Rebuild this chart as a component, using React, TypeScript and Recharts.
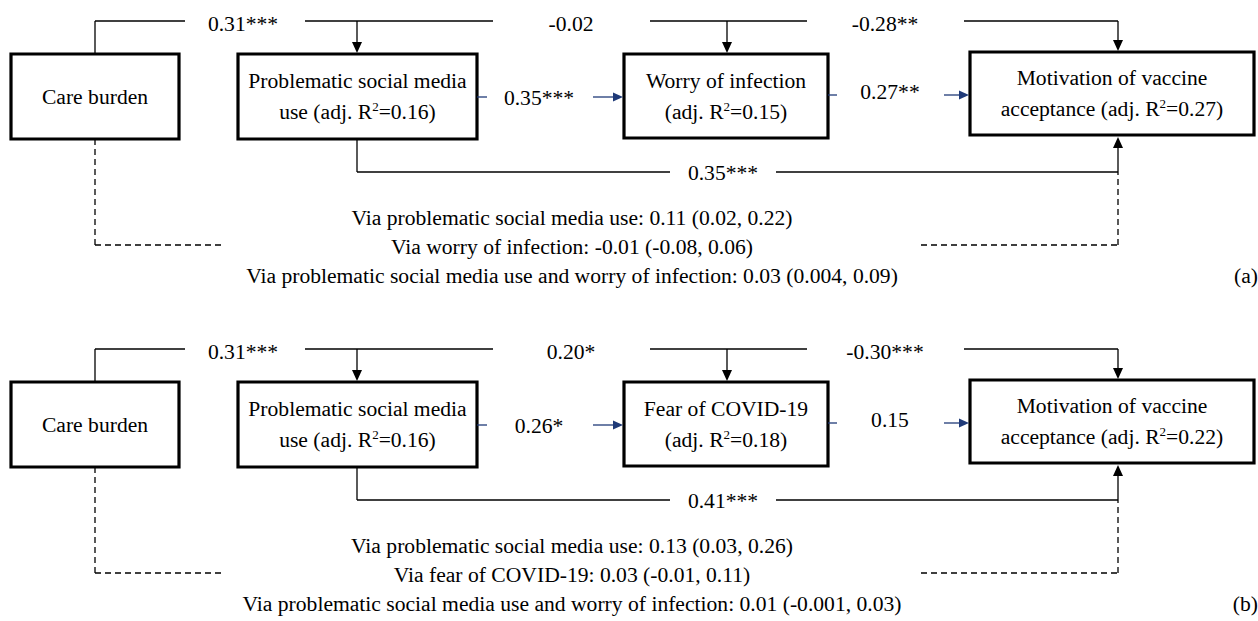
import { ReferenceArea, ReferenceLine, Scatter, ScatterChart, XAxis, YAxis } from 'recharts'

const W = 1258
const H = 621
const FONT = '"Liberation Serif", "Times New Roman", serif'
const NAVY = '#1f3a78'

// ---- content of the two panels ----
const NODES_A = [
  'Care burden',
  'Problematic social media|use (adj. R^2=0.16)',
  'Worry of infection|(adj. R^2=0.15)',
  'Motivation of vaccine|acceptance (adj. R^2=0.27)',
]
const NODES_B = [
  'Care burden',
  'Problematic social media|use (adj. R^2=0.16)',
  'Fear of COVID-19|(adj. R^2=0.18)',
  'Motivation of vaccine|acceptance (adj. R^2=0.22)',
]
const TOP_COEF_A = ['0.31***', '-0.02', '-0.28**']
const TOP_COEF_B = ['0.31***', '0.20*', '-0.30***']
const CHAIN_COEF_A = ['0.35***', '0.27**']
const CHAIN_COEF_B = ['0.26*', '0.15']
const DIRECT_COEF = ['0.35***', '0.41***']
const INDIRECT_A = [
  'Via problematic social media use: 0.11 (0.02, 0.22)',
  'Via worry of infection: -0.01 (-0.08, 0.06)',
  'Via problematic social media use and worry of infection: 0.03 (0.004, 0.09)',
]
const INDIRECT_B = [
  'Via problematic social media use: 0.13 (0.03, 0.26)',
  'Via fear of COVID-19: 0.03 (-0.01, 0.11)',
  'Via problematic social media use and worry of infection: 0.01 (-0.001, 0.03)',
]
const PANEL_TAGS = ['(a)', '(b)']

const NODES = [NODES_A, NODES_B]
const TOP_COEF = [TOP_COEF_A, TOP_COEF_B]
const CHAIN_COEF = [CHAIN_COEF_A, CHAIN_COEF_B]
const INDIRECT = [INDIRECT_A, INDIRECT_B]

// ---- layout (panel a, panel b is shifted down) ----
const PANEL_DY = [0, 328]
const BOX_X = [[11, 179], [238, 477], [624, 828], [970, 1254]]
const BOX_Y = [[54, 139], [54, 139], [54, 138], [52, 135]]
const TOP_Y = 21
const TOP_SRC_X = 95
const TOP_DROP_X = [357, 727, 1118]
const TOP_LABEL_X = [243, 571, 885]
const TOP_GAPS = [[185, 305], [493, 650], [807, 964]]
const CHAIN_Y = [97, 95]
const CHAIN_STUB = [[477, 487], [828, 837]]
const CHAIN_ARROW = [[593, 623], [944, 969]]
const CHAIN_LABEL_X = [539, 890]
const CHAIN_LABEL_BASE = [104.5, 98.5]
const DIRECT_X = 357
const DIRECT_Y = 172
const DIRECT_GAP = [670, 776]
const DASH_Y = 245
const DASH_LEFT_END = 225
const DASH_RIGHT_START = 921
const INDIRECT_X = 572
const INDIRECT_BASE = [225, 254, 283]

type TextItem = { x: number; y: number; text: string; anchor: 'start' | 'middle' | 'end' }
type ArrowItem = { x: number; y: number; dir: 'down' | 'up' | 'right'; color: string }
type Seg = { a: [number, number]; b: [number, number]; dashed?: boolean; color?: string }

const texts: TextItem[] = []
const arrows: ArrowItem[] = []
const segs: Seg[] = []

PANEL_DY.forEach((dy, p) => {
  // node labels
  NODES[p].forEach((label, i) => {
    const cx = (BOX_X[i][0] + BOX_X[i][1]) / 2
    const cy = (BOX_Y[i][0] + BOX_Y[i][1]) / 2 + dy
    const lines = label.split('|')
    if (lines.length === 1) {
      texts.push({ x: cx, y: cy + 7.5, text: lines[0], anchor: 'middle' })
    } else {
      texts.push({ x: cx, y: cy - 8.5, text: lines[0], anchor: 'middle' })
      texts.push({ x: cx, y: cy + 22.5, text: lines[1], anchor: 'middle' })
    }
  })

  // top paths from care burden
  const ty = TOP_Y + dy
  segs.push({ a: [TOP_SRC_X, BOX_Y[0][0] + dy], b: [TOP_SRC_X, ty] })
  segs.push({ a: [TOP_SRC_X, ty], b: [TOP_GAPS[0][0], ty] })
  TOP_GAPS.forEach((g, i) => {
    const next = i < TOP_GAPS.length - 1 ? TOP_GAPS[i + 1][0] : TOP_DROP_X[2]
    segs.push({ a: [g[1], ty], b: [next, ty] })
    texts.push({ x: TOP_LABEL_X[i], y: ty + 9.5, text: TOP_COEF[p][i], anchor: 'middle' })
  })
  TOP_DROP_X.forEach((x, i) => {
    const tip = BOX_Y[i + 1][0] - 1 + dy
    segs.push({ a: [x, ty], b: [x, tip - 6] })
    arrows.push({ x, y: tip, dir: 'down', color: '#000' })
  })

  // chain (blue) paths
  CHAIN_Y.forEach((cyBase, i) => {
    const cy = cyBase + dy
    segs.push({ a: [CHAIN_STUB[i][0], cy], b: [CHAIN_STUB[i][1], cy], color: NAVY })
    segs.push({ a: [CHAIN_ARROW[i][0], cy], b: [CHAIN_ARROW[i][1] - 6, cy], color: NAVY })
    arrows.push({ x: CHAIN_ARROW[i][1], y: cy, dir: 'right', color: NAVY })
    texts.push({ x: CHAIN_LABEL_X[i], y: CHAIN_LABEL_BASE[i] + dy, text: CHAIN_COEF[p][i], anchor: 'middle' })
  })

  // direct path from problematic use to motivation
  const dyY = DIRECT_Y + dy
  const endX = TOP_DROP_X[2]
  segs.push({ a: [DIRECT_X, BOX_Y[1][1] + dy], b: [DIRECT_X, dyY] })
  segs.push({ a: [DIRECT_X, dyY], b: [DIRECT_GAP[0], dyY] })
  segs.push({ a: [DIRECT_GAP[1], dyY], b: [endX, dyY] })
  segs.push({ a: [endX, dyY], b: [endX, BOX_Y[3][1] + 2 + dy + 6] })
  arrows.push({ x: endX, y: BOX_Y[3][1] + 2 + dy, dir: 'up', color: '#000' })
  texts.push({ x: (DIRECT_GAP[0] + DIRECT_GAP[1]) / 2, y: dyY + 7.5, text: DIRECT_COEF[p], anchor: 'middle' })

  // dashed indirect connection
  const dashY = DASH_Y + dy
  segs.push({ a: [TOP_SRC_X, BOX_Y[0][1] + dy], b: [TOP_SRC_X, dashY], dashed: true })
  segs.push({ a: [TOP_SRC_X, dashY], b: [DASH_LEFT_END, dashY], dashed: true })
  segs.push({ a: [DASH_RIGHT_START, dashY], b: [endX, dashY], dashed: true })
  segs.push({ a: [endX, dashY], b: [endX, dyY], dashed: true })

  INDIRECT[p].forEach((t, i) => {
    texts.push({ x: INDIRECT_X, y: INDIRECT_BASE[i] + dy, text: t, anchor: 'middle' })
  })
  texts.push({ x: W, y: INDIRECT_BASE[2] + dy, text: PANEL_TAGS[p], anchor: 'end' })
})

const boxes = PANEL_DY.flatMap((dy) =>
  BOX_X.map((bx, i) => ({ x1: bx[0], x2: bx[1], y1: BOX_Y[i][0] + dy, y2: BOX_Y[i][1] + dy })),
)

function TextMark(props: any) {
  const { cx, cy, payload } = props
  if (cx == null || cy == null) return null
  const t: string = payload.text
  const parts = t.split('^2')
  return (
    <text x={cx} y={cy} textAnchor={payload.anchor} fontFamily={FONT} fontSize={21.6} fill="#000">
      {parts.length === 1 ? (
        t
      ) : (
        <>
          <tspan>{parts[0]}</tspan>
          <tspan dy={-8} fontSize={13}>2</tspan>
          <tspan dy={8}>{parts[1]}</tspan>
        </>
      )}
    </text>
  )
}

function ArrowMark(props: any) {
  const { cx, cy, payload } = props
  if (cx == null || cy == null) return null
  let pts = ''
  if (payload.dir === 'down') pts = `${cx},${cy} ${cx - 5},${cy - 11} ${cx + 5},${cy - 11}`
  else if (payload.dir === 'up') pts = `${cx},${cy} ${cx - 5},${cy + 11} ${cx + 5},${cy + 11}`
  else pts = `${cx},${cy} ${cx - 10},${cy - 4.5} ${cx - 10},${cy + 4.5}`
  return <polygon points={pts} fill={payload.color} />
}

export default function App() {
  return (
    <div style={{ position: 'absolute', left: 0, top: 0, width: W, height: H, background: '#fff' }}>
      <ScatterChart width={W} height={H} margin={{ top: 0, right: 0, bottom: 0, left: 0 }}>
        <XAxis type="number" dataKey="x" domain={[0, W]} hide allowDataOverflow />
        <YAxis type="number" dataKey="y" domain={[0, H]} reversed hide allowDataOverflow />
        {segs.map((s, i) => (
          <ReferenceLine
            key={`s${i}`}
            segment={[
              { x: s.a[0], y: s.a[1] },
              { x: s.b[0], y: s.b[1] },
            ]}
            stroke={s.color ?? '#000'}
            strokeWidth={1.3}
            strokeDasharray={s.dashed ? '6 4' : undefined}
            ifOverflow="visible"
          />
        ))}
        {boxes.map((b, i) => (
          <ReferenceArea
            key={`b${i}`}
            x1={b.x1}
            x2={b.x2}
            y1={b.y1}
            y2={b.y2}
            fill="none"
            fillOpacity={0}
            stroke="#000"
            strokeWidth={3.2}
            ifOverflow="visible"
          />
        ))}
        <Scatter data={arrows} shape={(p: any) => <ArrowMark {...p} />} isAnimationActive={false} />
        <Scatter data={texts} shape={(p: any) => <TextMark {...p} />} isAnimationActive={false} />
      </ScatterChart>
    </div>
  )
}
